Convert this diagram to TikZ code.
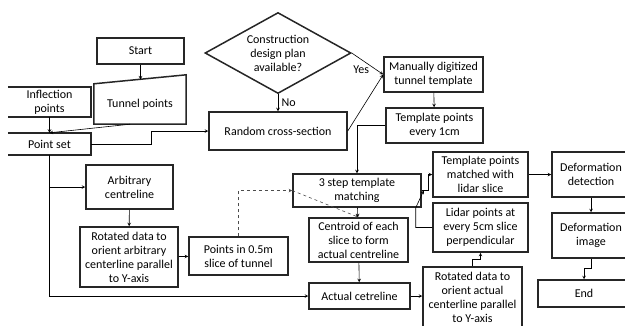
\documentclass[tikz,border=0pt]{standalone}
\usepackage{fontspec}
\setmainfont{Carlito}
\usetikzlibrary{shapes.geometric}
\begin{document}
\begin{tikzpicture}[x=1pt,y=-1pt,font=\fontsize{12}{14}\selectfont]
		% Estilos para os nós
		\tikzstyle{process} = [rectangle, minimum width=95pt, minimum height=35pt, text centered, align=center, inner sep=1pt, draw=black!85, line width=1.5pt]
		\tikzstyle{openbox} = [rectangle, text centered, align=center, inner sep=1pt]
		\tikzstyle{boxline} = [draw=black!85, line width=1.5pt]
		\tikzstyle{decision} = [diamond, aspect=1.8, minimum width=146pt, minimum height=81pt, inner sep=0pt, text centered, align=center, draw=black!85, line width=1.5pt]
		\tikzstyle{arrow} = [semithick,->,>=stealth]
		\tikzstyle{dasharrow} = [arrow, dashed, draw=black!70]
		\useasboundingbox (0,0) rectangle (625,325);
		% Nós
		\node (start) [process, minimum width=87pt, minimum height=26pt] at (140.5,51) {Start};
		\node (tunnel) [openbox, minimum width=92pt, minimum height=40pt] at (140,104) {Tunnel points};
		\node (infl) [openbox, minimum width=83pt, minimum height=30pt] at (49.5,102) {Inflection\\points};
		\node (pset) [openbox, minimum width=83pt, minimum height=22pt] at (49.5,144) {Point set};
		\node (plan) [decision] at (278,53) {Construction\\design plan\\available?};
		\node (rand) [process, minimum width=138pt, minimum height=38pt] at (278,131) {Random cross-section};
		\node (manual) [process, minimum width=99pt] at (433.5,74.5) {Manually digitized\\tunnel template};
		\node (tpoints) [process, minimum width=97pt] at (434.5,125.5) {Template points\\every 1cm};
		\node (arb) [process, minimum width=87pt, minimum height=44pt] at (129.5,187) {Arbitrary\\centreline};
		\node (rotarb) [process, minimum width=98pt, minimum height=60pt] at (129,257) {Rotated data to\\orient arbitrary\\centerline parallel\\to Y-axis};
		\node (slice) [process, minimum width=99pt, minimum height=38pt] at (238.5,256) {Points in 0.5m\\slice of tunnel};
		\node (tsm) [process, minimum width=128pt, minimum height=33pt] at (357,190.5) {3 step template\\matching};
		\node (cent) [process, minimum width=99pt, minimum height=44pt] at (358.5,240) {Centroid of each\\slice to form\\actual centreline};
		\node (act) [process, minimum width=101pt, minimum height=26pt] at (359.5,296) {Actual cetreline};
		\node (rotact) [process, minimum width=99pt, minimum height=60pt] at (472.5,297) {Rotated data to\\orient actual\\centerline parallel\\to Y-axis};
		\node (match) [process, minimum height=45pt] at (480.5,174.5) {Template points\\matched with\\lidar slice};
		\node (lidar) [process, minimum height=49pt] at (480.5,227.5) {Lidar points at\\every 5cm slice\\perpendicular};
		\node (defdet) [process, minimum width=78pt, minimum height=45pt] at (591,174.5) {Deformation\\detection};
		\node (defimg) [process, minimum width=78pt, minimum height=45pt] at (591,235.5) {Deformation\\image};
		\node (theend) [process, minimum width=92pt, minimum height=27pt] at (584,293.5) {End};
		\coordinate (tunneltop) at (140.5,79.5);
		% Contornos abertos
		\draw [boxline] (tunnel.south west) -- (tunnel.north west) -- ([yshift=9pt]tunnel.north east) -- (tunnel.south east) -- cycle;
		\draw [boxline] (infl.north west) -- (infl.north east) -- (infl.south east) -- (infl.south west);
		\draw [boxline] (pset.north west) -- (pset.north east) -- (pset.south east) -- (pset.south west);
		% Setas
		\draw [arrow] (start) -- (tunneltop);
		\draw [arrow] (infl) -- (pset);
		\draw [arrow] ([xshift=-10pt]tunnel.south) -- (pset.north);
		\draw [arrow] (pset.east) -- ++(60,0) |- (rand.west);
		\draw [arrow] (plan.south) -- node[right] {No} (rand.north);
		\draw [arrow] (plan.east) -- node[pos=0.3, below=3pt] {Yes} (manual.west);
		\draw [arrow] (rand.east) -- (manual.west);
		\draw [arrow] (manual) -- (tpoints);
		\draw [arrow] (tpoints.west) -| (tsm.north);
		\draw [arrow] (pset.south |- arb.west) -- (arb.west);
		\draw [arrow] (pset.south) |- (act.west);
		\draw [arrow] (arb) -- (rotarb);
		\draw [arrow] (rotarb) -- (slice);
		\draw [dasharrow] (slice.north) |- (tsm.west);
		\draw [dasharrow] (tsm.west) -- (cent.north);
		\draw [arrow] (tsm) -- (cent);
		\draw [arrow] (cent) -- (act);
		\draw [arrow] (act.east) -- (act.east -| rotact.west);
		\draw [arrow] (rotact.north) -- ++(0,-7) -| (lidar.south);
		\draw [arrow] (lidar.west) -| ([xshift=-6pt]tsm.south east) -- ([xshift=2pt]tsm.east);
		\draw [arrow] (tsm.east) -- ++(7,0) |- (match.west);
		\draw [arrow] (match) -- (defdet);
		\draw [arrow] (defdet) -- (defimg);
		\draw [arrow] (defimg.south) -- ++(0,10) -| (theend.north);
	\end{tikzpicture}
\end{document}
